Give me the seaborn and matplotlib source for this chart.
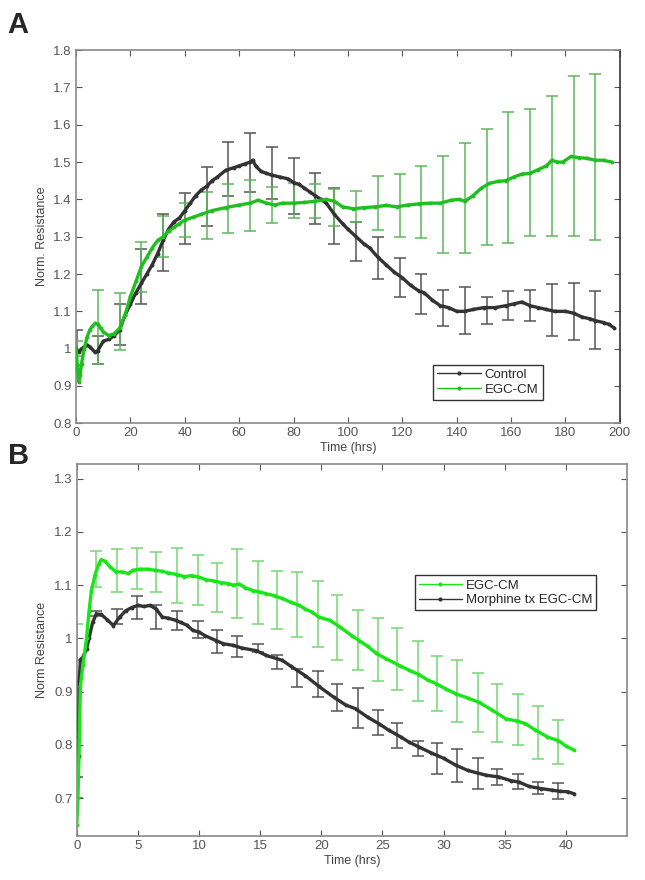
import numpy as np
import pandas as pd
import seaborn as sns
import matplotlib.pyplot as plt
from matplotlib.ticker import FuncFormatter

# ---- Panel A: Control vs EGC-CM (0-200 hrs) ----
ctrl_t = [0, 1, 2, 3, 4, 5, 7, 8, 10, 12, 14, 16, 18, 20, 22, 24, 26, 28, 30, 32,
          34, 36, 38, 40, 42, 44, 46, 48, 50, 52, 55, 58, 60, 62, 64, 65, 66, 68, 70,
          72, 75, 78, 80, 82, 84, 86, 88, 90, 92, 95, 98, 100, 103, 106, 108, 111,
          114, 117, 120, 123, 126, 128, 131, 134, 137, 140, 143, 146, 150, 154, 158,
          161, 164, 167, 170, 173, 176, 180, 183, 186, 189, 191, 194, 196, 198]
ctrl_v = [1.0, 0.99, 1.0, 1.005, 1.01, 1.005, 0.99, 0.995, 1.02, 1.025, 1.035, 1.05,
          1.09, 1.12, 1.15, 1.175, 1.2, 1.225, 1.255, 1.29, 1.32, 1.34, 1.35, 1.37,
          1.39, 1.41, 1.425, 1.435, 1.45, 1.46, 1.478, 1.485, 1.49, 1.495, 1.5, 1.505,
          1.49, 1.475, 1.47, 1.465, 1.46, 1.455, 1.445, 1.44, 1.43, 1.42, 1.41, 1.4,
          1.39, 1.36, 1.335, 1.32, 1.3, 1.28, 1.27, 1.245, 1.225, 1.205, 1.19, 1.17,
          1.155, 1.15, 1.13, 1.115, 1.11, 1.1, 1.1, 1.105, 1.11, 1.11, 1.115, 1.12,
          1.125, 1.115, 1.11, 1.105, 1.1, 1.1, 1.095, 1.085, 1.08, 1.075, 1.07, 1.065,
          1.055]

egc_t = [0, 0.5, 1, 1.5, 2, 3, 4, 5, 6, 7, 8, 9, 10, 12, 14, 16, 18, 20, 22, 24, 26,
         28, 30, 32, 34, 36, 38, 40, 43, 46, 50, 55, 60, 64, 67, 70, 73, 76, 80, 84,
         88, 92, 95, 98, 102, 106, 110, 114, 118, 122, 126, 130, 134, 138, 141, 143,
         146, 149, 152, 155, 158, 161, 164, 167, 170, 173, 175, 177, 179, 182, 185,
         188, 191, 194, 197]
egc_v = [1.0, 0.95, 0.91, 0.93, 0.96, 1.0, 1.03, 1.05, 1.06, 1.068, 1.065, 1.055,
         1.045, 1.035, 1.04, 1.055, 1.09, 1.14, 1.18, 1.22, 1.245, 1.27, 1.29, 1.3,
         1.315, 1.325, 1.335, 1.345, 1.352, 1.36, 1.37, 1.378, 1.385, 1.39, 1.398,
         1.39, 1.385, 1.39, 1.39, 1.392, 1.395, 1.4, 1.395, 1.38, 1.375, 1.378, 1.38,
         1.384, 1.38, 1.385, 1.388, 1.39, 1.39, 1.398, 1.4, 1.395, 1.41, 1.43, 1.443,
         1.448, 1.45, 1.46, 1.468, 1.47, 1.48, 1.49, 1.505, 1.5, 1.5, 1.515, 1.512,
         1.51, 1.505, 1.505, 1.5]

bar_t_a = [0.5, 8, 16, 24, 32, 40, 48, 56, 64, 72, 80, 88, 95, 103, 111, 119, 127,
           135, 143, 151, 159, 167, 175, 183, 191]
ctrl_lo = [0.955, 0.96, 1.01, 1.12, 1.208, 1.28, 1.328, 1.41, 1.42, 1.4, 1.362, 1.334,
           1.28, 1.234, 1.188, 1.139, 1.092, 1.061, 1.04, 1.065, 1.076, 1.074, 1.033,
           1.024, 1.0]
ctrl_hi = [1.05, 1.035, 1.12, 1.266, 1.362, 1.417, 1.487, 1.554, 1.577, 1.541, 1.51,
           1.47, 1.43, 1.34, 1.298, 1.243, 1.199, 1.157, 1.166, 1.139, 1.154, 1.158,
           1.173, 1.176, 1.155]
egc_lo = [0.98, 0.96, 0.996, 1.152, 1.246, 1.3, 1.295, 1.311, 1.315, 1.337, 1.349,
          1.349, 1.33, 1.34, 1.317, 1.3, 1.297, 1.256, 1.257, 1.279, 1.283, 1.303,
          1.303, 1.302, 1.29]
egc_hi = [1.02, 1.158, 1.148, 1.286, 1.355, 1.39, 1.42, 1.44, 1.452, 1.432, 1.444,
          1.44, 1.429, 1.422, 1.462, 1.467, 1.49, 1.516, 1.55, 1.589, 1.634, 1.643,
          1.677, 1.73, 1.737]

# ---- Panel B: EGC-CM vs Morphine tx EGC-CM (0-45 hrs) ----
b_egc_t = [0, 0.1, 0.2, 0.3, 0.5, 0.8, 1.0, 1.2, 1.5, 1.8, 2.0, 2.3, 2.7, 3.2, 3.7,
           4.2, 4.6, 5.2, 5.8, 6.4, 7.0, 7.5, 8.2, 8.8, 9.4, 10, 10.6, 11.2, 11.8,
           12.4, 12.8, 13.3, 13.8, 14.4, 15, 15.5, 16.2, 16.8, 17.5, 18.2, 18.7, 19.2,
           19.8, 20.7, 21.5, 22.5, 23.1, 23.8, 24.5, 25.3, 26.4, 27.2, 28, 28.7, 29.4,
           30.2, 31, 32, 32.9, 34, 35.1, 36, 36.7, 37.5, 38.5, 39.4, 40, 40.7]
b_egc_v = [0.65, 0.7, 0.81, 0.91, 0.95, 1.0, 1.05, 1.09, 1.12, 1.14, 1.148, 1.145,
           1.135, 1.125, 1.125, 1.122, 1.128, 1.13, 1.13, 1.128, 1.126, 1.123, 1.12,
           1.116, 1.118, 1.115, 1.11, 1.108, 1.105, 1.103, 1.1, 1.102, 1.095, 1.09,
           1.087, 1.084, 1.08, 1.075, 1.068, 1.062, 1.055, 1.05, 1.04, 1.034, 1.022,
           1.005, 0.996, 0.985, 0.972, 0.962, 0.949, 0.94, 0.932, 0.922, 0.915, 0.905,
           0.896, 0.888, 0.88, 0.865, 0.849, 0.845, 0.84, 0.828, 0.815, 0.808, 0.798,
           0.79]

b_mor_t = [0, 0.1, 0.15, 0.2, 0.3, 0.5, 0.8, 1.0, 1.3, 1.6, 2.0, 2.5, 3.0, 3.5, 4.0,
           4.5, 5.0, 5.5, 6.0, 6.5, 7.0, 7.5, 8.1, 8.5, 9.0, 9.5, 10, 10.5, 11.4, 12.0,
           12.8, 13.5, 14.7, 15.5, 16.8, 17.5, 18.7, 19.8, 21, 22, 22.8, 23.8, 24.7,
           25.5, 26.5, 27.2, 28, 29, 30, 31, 32, 33.5, 34.5, 35.5, 36.2, 37, 38, 38.9,
           39.5, 40.2, 40.7]
b_mor_v = [0.7, 0.74, 0.78, 0.92, 0.96, 0.965, 0.98, 1.0, 1.03, 1.046, 1.045, 1.035,
           1.024, 1.04, 1.052, 1.058, 1.062, 1.06, 1.062, 1.055, 1.04, 1.038, 1.034,
           1.03, 1.025, 1.015, 1.012, 1.005, 0.996, 0.99, 0.987, 0.982, 0.977, 0.968,
           0.959, 0.948, 0.93, 0.91, 0.89, 0.875, 0.868, 0.852, 0.84, 0.828, 0.815,
           0.805, 0.796, 0.785, 0.775, 0.762, 0.752, 0.743, 0.74, 0.733, 0.73, 0.722,
           0.718, 0.715, 0.713, 0.712, 0.708]

bar_t_b = [0, 1.6, 3.3, 4.9, 6.5, 8.2, 9.9, 11.5, 13.1, 14.8, 16.4, 18.0, 19.7, 21.3,
           23.0, 24.6, 26.2, 27.9, 29.5, 31.1, 32.8, 34.4, 36.1, 37.7, 39.4]
b_egc_lo = [0.96, 1.096, 1.087, 1.093, 1.087, 1.067, 1.062, 1.049, 1.038, 1.027, 1.018,
            1.002, 0.984, 0.959, 0.941, 0.921, 0.904, 0.882, 0.863, 0.844, 0.825,
            0.806, 0.799, 0.774, 0.765]
b_egc_hi = [1.027, 1.164, 1.167, 1.17, 1.163, 1.169, 1.156, 1.141, 1.167, 1.146, 1.126,
            1.124, 1.107, 1.082, 1.054, 1.038, 1.019, 0.995, 0.967, 0.959, 0.935,
            0.914, 0.896, 0.874, 0.847]
b_mor_lo = [0.7, 1.043, 1.027, 1.036, 1.018, 1.015, 1.0, 0.973, 0.965, 0.974, 0.943,
            0.909, 0.89, 0.864, 0.832, 0.818, 0.794, 0.779, 0.746, 0.73, 0.718, 0.725,
            0.718, 0.707, 0.698]
b_mor_hi = [0.74, 1.052, 1.055, 1.08, 1.062, 1.051, 1.032, 1.015, 1.004, 0.99, 0.968,
            0.943, 0.938, 0.915, 0.907, 0.866, 0.841, 0.807, 0.804, 0.792, 0.775, 0.755,
            0.746, 0.73, 0.729]


def draw_bars(ax, t, lo, hi, color):
    lo = np.array(lo)
    hi = np.array(hi)
    mid = (lo + hi) / 2
    ax.errorbar(t, mid, yerr=(hi - lo) / 2, fmt="none", ecolor=color,
                elinewidth=1.1, capsize=4.5, capthick=1.1, zorder=1)


def style_axes(ax):
    ax.tick_params(direction="in", top=True, right=True, length=4,
                   colors="#555555", labelsize=9.5, pad=3)
    for s in ax.spines.values():
        s.set_color("#8a8a8a")
        s.set_linewidth(1.2)
    ax.yaxis.set_major_formatter(FuncFormatter(lambda v, p: f"{v:g}"))
    ax.grid(False)


sns.set_style("ticks")
plt.rcParams["font.family"] = ["Liberation Sans", "DejaVu Sans"]

fig = plt.figure(figsize=(6.45, 8.8), dpi=100)
ax_a = fig.add_axes([0.118, 0.519, 0.843, 0.424])
ax_b = fig.add_axes([0.119, 0.050, 0.853, 0.423])

# Panel A
black = "#333333"
green_a = "#1fbf1f"
draw_bars(ax_a, bar_t_a, ctrl_lo, ctrl_hi, "#555555")
draw_bars(ax_a, bar_t_a, egc_lo, egc_hi, "#5cb85c")
sns.lineplot(x=ctrl_t, y=ctrl_v, ax=ax_a, color=black, linewidth=2.4, marker="o",
             markersize=2.8, markeredgewidth=0, label="Control", zorder=3)
sns.lineplot(x=egc_t, y=egc_v, ax=ax_a, color=green_a, linewidth=2.4, marker="o",
             markersize=2.8, markeredgewidth=0, label="EGC-CM", zorder=4)
ax_a.set_xlim(0, 200)
ax_a.set_ylim(0.8, 1.8)
ax_a.set_xticks(np.arange(0, 201, 20))
ax_a.set_yticks(np.arange(0.8, 1.81, 0.1))
ax_a.set_xlabel("Time (hrs)", fontsize=9, color="#444444", labelpad=2)
ax_a.set_ylabel("Norm. Resistance", fontsize=9, color="#444444", labelpad=4)
style_axes(ax_a)
ax_a.spines["right"].set_color("#333333")
leg = ax_a.legend(loc="upper left", bbox_to_anchor=(0.645, 0.175), fontsize=9.5,
                  frameon=True, fancybox=False, edgecolor="black", handlelength=3.3,
                  borderpad=0.3, labelspacing=0.2, handletextpad=0.3)
leg.get_frame().set_linewidth(1.0)
for h in leg.get_lines():
    h.set_linewidth(1.0)
    h.set_markersize(3)

# Panel B
green_b = "#19e619"
draw_bars(ax_b, bar_t_b, b_egc_lo, b_egc_hi, "#74d874")
draw_bars(ax_b, bar_t_b, b_mor_lo, b_mor_hi, "#555555")
sns.lineplot(x=b_egc_t, y=b_egc_v, ax=ax_b, color=green_b, linewidth=2.4, marker="o",
             markersize=2.8, markeredgewidth=0, label="EGC-CM", zorder=4)
sns.lineplot(x=b_mor_t, y=b_mor_v, ax=ax_b, color=black, linewidth=2.4, marker="o",
             markersize=2.8, markeredgewidth=0, label="Morphine tx EGC-CM", zorder=3)
ax_b.set_xlim(0, 45)
ax_b.set_ylim(0.629, 1.328)
ax_b.set_xticks(np.arange(0, 41, 5))
ax_b.set_yticks(np.arange(0.7, 1.31, 0.1))
ax_b.set_xlabel("Time (hrs)", fontsize=9, color="#444444", labelpad=2)
ax_b.set_ylabel("Norm Resistance", fontsize=9, color="#444444", labelpad=4)
style_axes(ax_b)
leg = ax_b.legend(loc="upper left", bbox_to_anchor=(0.602, 0.718), fontsize=9.5,
                  frameon=True, fancybox=False, edgecolor="black", handlelength=3.3,
                  borderpad=0.3, labelspacing=0.2, handletextpad=0.3)
leg.get_frame().set_linewidth(1.0)
for h in leg.get_lines():
    h.set_linewidth(1.0)
    h.set_markersize(3)

fig.text(0.012, 0.987, "A", fontsize=21, fontweight="bold", va="top")
fig.text(0.012, 0.498, "B", fontsize=21, fontweight="bold", va="top")

fig.savefig("out.png", dpi=100)
